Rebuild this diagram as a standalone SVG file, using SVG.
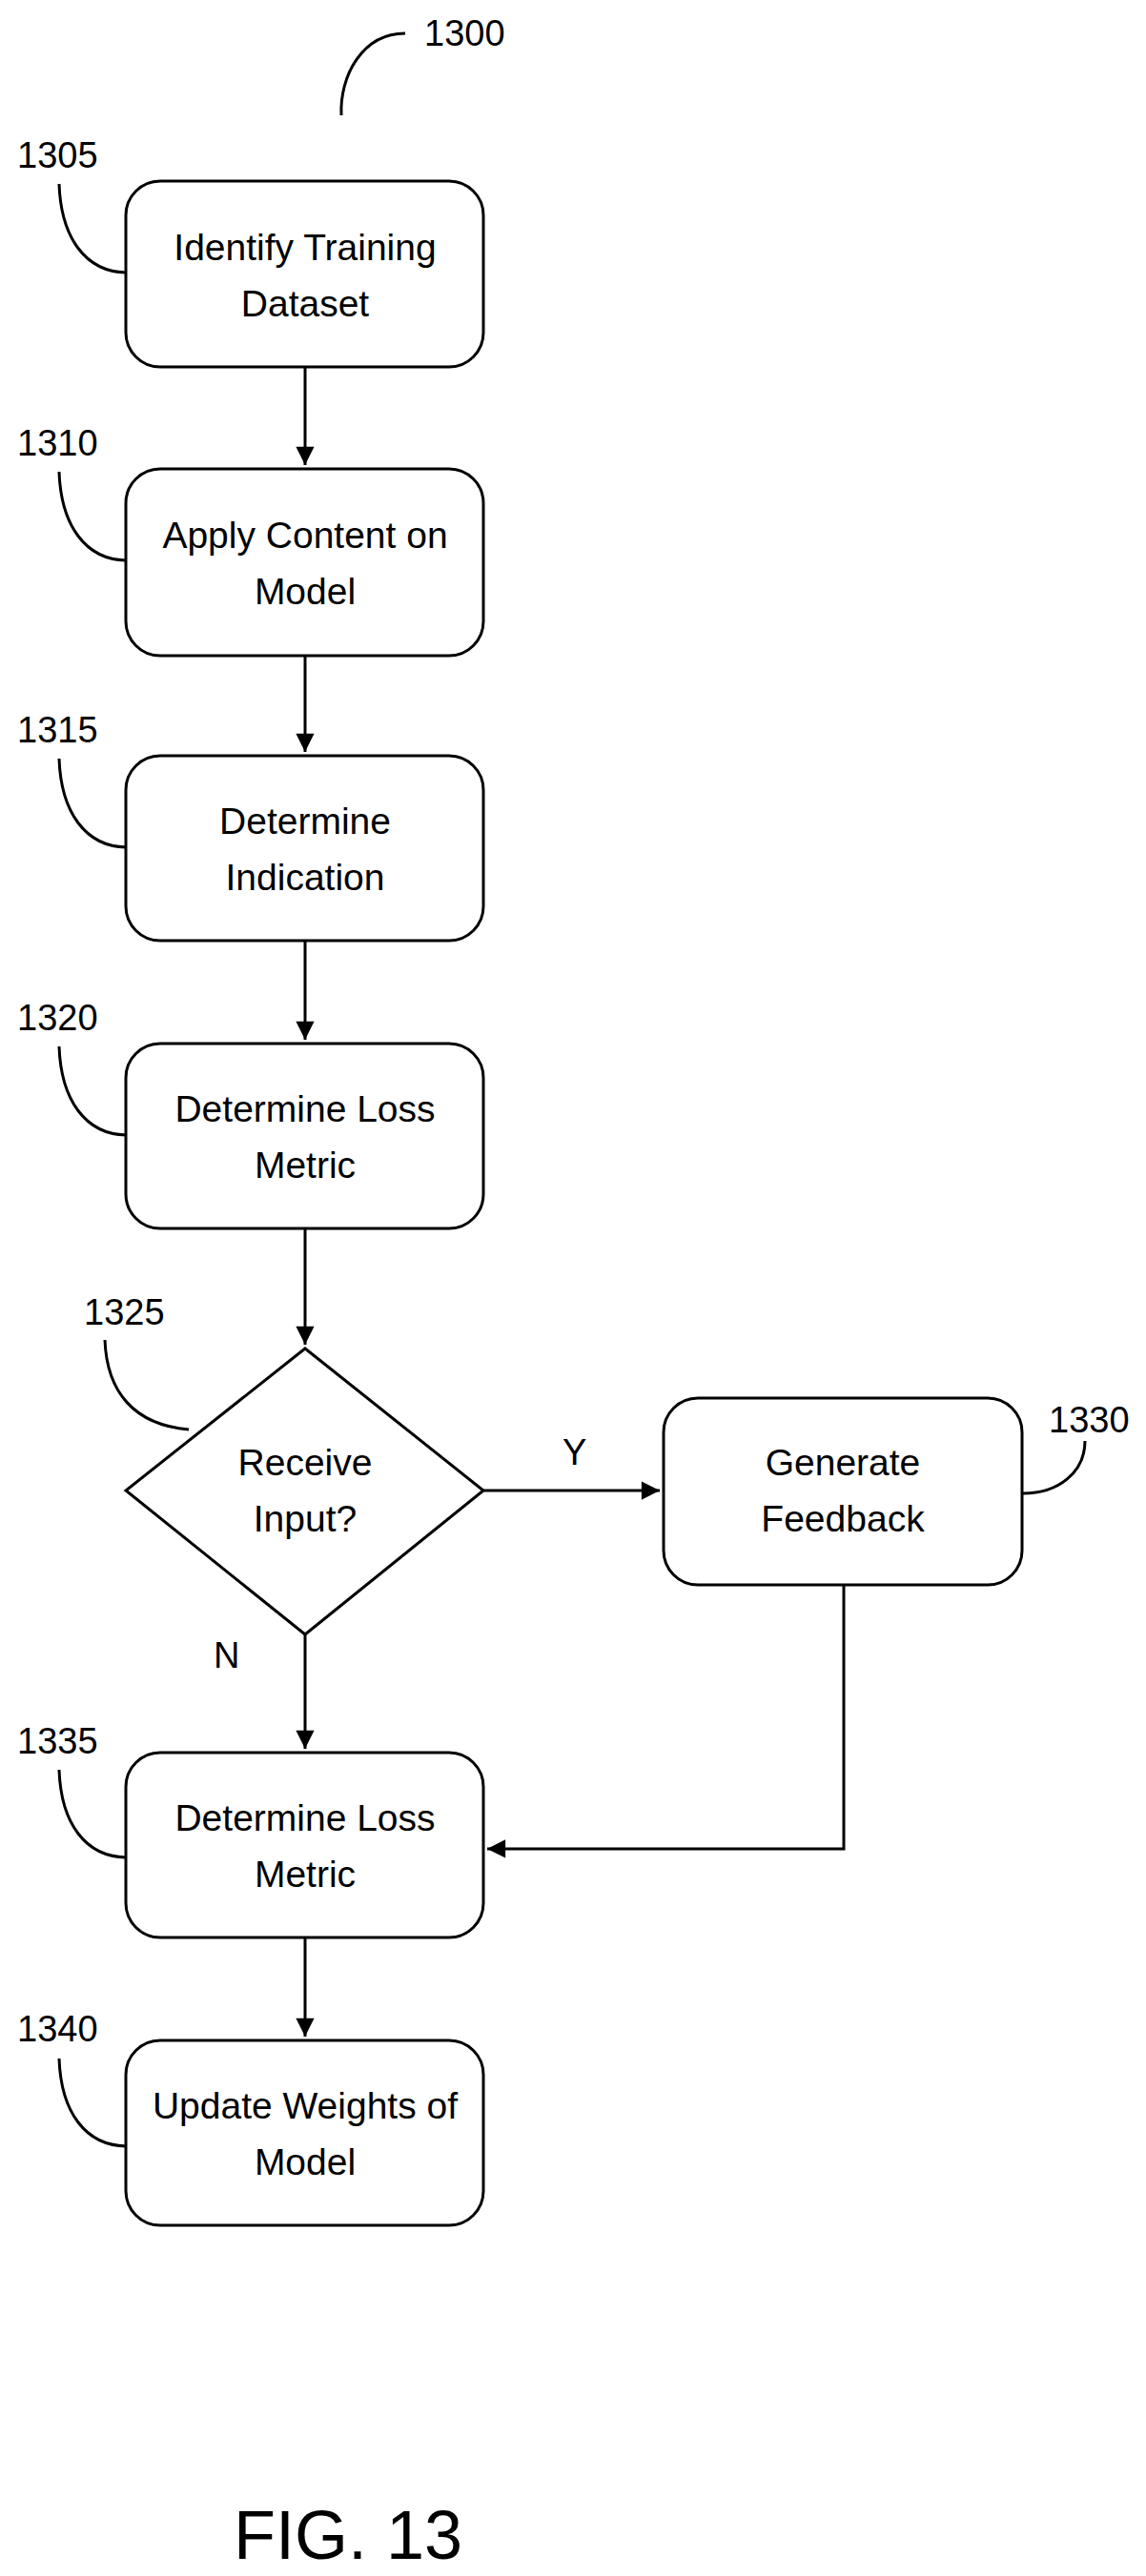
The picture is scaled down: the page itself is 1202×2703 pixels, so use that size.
<svg xmlns="http://www.w3.org/2000/svg" width="1202" height="2703" viewBox="0 0 1202 2703">
<style>
.b{fill:#fff;stroke:#000;stroke-width:3}
.t{font-family:"Liberation Sans",Arial,sans-serif;font-size:39px;text-anchor:middle;fill:#000}
.l{font-family:"Liberation Sans",Arial,sans-serif;font-size:38px;fill:#000}
.c{fill:none;stroke:#000;stroke-width:3}
</style>
<defs><marker id="a" viewBox="0 0 10 10" refX="10" refY="5" markerWidth="8" markerHeight="8" orient="auto" markerUnits="userSpaceOnUse" style="overflow:visible"><path d="M0,0L10,5L0,10z" transform="scale(2.4) translate(-5.8,-2.9)"/></marker></defs>
<rect width="1202" height="2703" fill="#fff"/>
<g id="connectors" class="c">
<path d="M320,385V488" marker-end="url(#a)"/>
<path d="M320,688V789" marker-end="url(#a)"/>
<path d="M320,987V1091" marker-end="url(#a)"/>
<path d="M320,1289V1411" marker-end="url(#a)"/>
<path d="M507,1564H692" marker-end="url(#a)"/>
<path d="M320,1715V1835" marker-end="url(#a)"/>
<path d="M885,1663V1940H511" marker-end="url(#a)"/>
<path d="M320,2033V2137" marker-end="url(#a)"/>
</g>
<g id="n1305"><rect class="b" x="132" y="190" width="375" height="195" rx="36"/><text class="t" x="320" y="273">Identify Training</text><text class="t" x="320" y="332">Dataset</text></g>
<g id="n1310"><rect class="b" x="132" y="492" width="375" height="196" rx="36"/><text class="t" x="320" y="575">Apply Content on</text><text class="t" x="320" y="634">Model</text></g>
<g id="n1315"><rect class="b" x="132" y="793" width="375" height="194" rx="36"/><text class="t" x="320" y="875">Determine</text><text class="t" x="320" y="934">Indication</text></g>
<g id="n1320"><rect class="b" x="132" y="1095" width="375" height="194" rx="36"/><text class="t" x="320" y="1177">Determine Loss</text><text class="t" x="320" y="1236">Metric</text></g>
<g id="n1325"><path class="b" d="M320,1415L507,1564L320,1715L132,1564z"/><text class="t" x="320" y="1548">Receive</text><text class="t" x="320" y="1607">Input?</text></g>
<g id="n1330"><rect class="b" x="696" y="1467" width="376" height="196" rx="36"/><text class="t" x="884" y="1548">Generate</text><text class="t" x="884" y="1607">Feedback</text></g>
<g id="n1335"><rect class="b" x="132" y="1839" width="375" height="194" rx="36"/><text class="t" x="320" y="1921">Determine Loss</text><text class="t" x="320" y="1980">Metric</text></g>
<g id="n1340"><rect class="b" x="132" y="2141" width="375" height="194" rx="36"/><text class="t" x="320" y="2223">Update Weights of</text><text class="t" x="320" y="2282">Model</text></g>
<g id="labels">
<text class="l" x="445" y="48">1300</text>
<path class="c" d="M358,121C356,80 380,35 425,35"/>
<text class="l" x="18" y="176">1305</text>
<path class="c" d="M62,193C64,250 90,285 132,286"/>
<text class="l" x="18" y="478">1310</text>
<path class="c" d="M62,495C64,552 90,587 132,588"/>
<text class="l" x="18" y="779">1315</text>
<path class="c" d="M62,796C64,853 90,888 132,889"/>
<text class="l" x="18" y="1081">1320</text>
<path class="c" d="M62,1098C64,1155 90,1190 132,1191"/>
<text class="l" x="88" y="1390">1325</text>
<path class="c" d="M110,1406C112,1460 140,1495 198,1500"/>
<text class="l" x="1100" y="1503">1330</text>
<path class="c" d="M1138,1512C1138,1545 1110,1567 1073,1567"/>
<text class="l" x="590" y="1537">Y</text>
<text class="l" x="224" y="1750">N</text>
<text class="l" x="18" y="1840">1335</text>
<path class="c" d="M62,1857C64,1914 90,1948 132,1949"/>
<text class="l" x="18" y="2142">1340</text>
<path class="c" d="M62,2160C64,2217 90,2251 132,2252"/>
<text class="l" x="365" y="2685" style="font-size:72px;text-anchor:middle">FIG. 13</text>
</g>
</svg>
